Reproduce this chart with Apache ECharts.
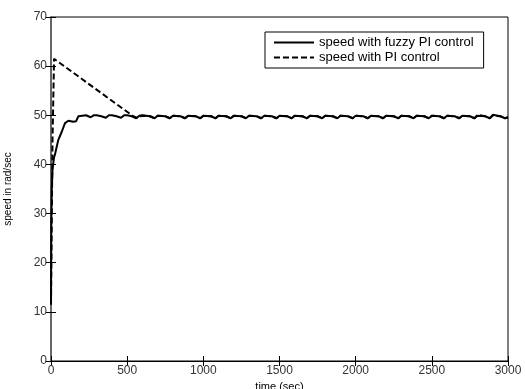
<!DOCTYPE html>
<html><head><meta charset="utf-8">
<script src="https://cdn.jsdelivr.net/npm/echarts@6/dist/echarts.min.js"></script>
<style>html,body{margin:0;padding:0;background:#fff}#c{width:525px;height:389px}</style>
</head><body><div id="c"></div>
<script>
var xTicks = [0, 500, 1000, 1500, 2000, 2500, 3000];
var yTicks = [0, 10, 20, 30, 40, 50, 60, 70];
var seriesNames = ["speed with fuzzy PI control", "speed with PI control"];

var fuzzyTime = [0, 2, 5, 10, 20, 26, 33, 48, 70, 92, 114, 146, 165, 180, 190,
  230, 260, 280, 300, 330, 360, 380, 400, 430, 460, 480, 500, 530, 560, 580, 600,
  650, 680, 700, 750, 780, 800, 850, 880, 900, 950, 980, 1000, 1050, 1080, 1100,
  1150, 1180, 1200, 1250, 1280, 1300, 1350, 1380, 1400, 1450, 1480, 1500, 1550, 1580, 1600,
  1650, 1680, 1700, 1750, 1780, 1800, 1850, 1880, 1900, 1950, 1980, 2000, 2050, 2080, 2100,
  2150, 2180, 2200, 2250, 2280, 2300, 2350, 2380, 2400, 2450, 2480, 2500, 2550, 2580, 2600,
  2650, 2680, 2700, 2750, 2780, 2800, 2850, 2880, 2900, 2950, 2980, 3000];
var fuzzySpeed = [11.5, 28, 35, 39, 41.5, 42, 43, 45, 46.6, 48.4, 48.9, 48.7, 48.8, 49.8, 50.0,
  50.0, 49.6, 50.0, 50.0, 49.8, 49.5, 50.0, 50.0, 49.8, 49.5, 50.0, 50.0, 49.8, 49.4, 49.9, 50.0,
  49.8, 49.4, 49.9, 49.8, 49.4, 49.9, 49.8, 49.4, 49.9, 49.8, 49.4, 49.9, 49.8, 49.4, 49.9,
  49.8, 49.4, 49.9, 49.8, 49.4, 49.9, 49.8, 49.4, 49.9, 49.8, 49.4, 49.9, 49.8, 49.4, 49.9,
  49.8, 49.4, 49.9, 49.8, 49.4, 49.9, 49.8, 49.4, 49.9, 49.8, 49.4, 49.9, 49.8, 49.4, 49.9,
  49.8, 49.4, 49.9, 49.8, 49.4, 49.9, 49.8, 49.4, 49.9, 49.8, 49.4, 49.9, 49.8, 49.4, 49.9,
  49.8, 49.4, 49.9, 49.8, 49.4, 49.9, 49.8, 49.4, 50.1, 49.8, 49.4, 49.6];

var piTime = [0, 10, 20, 540, 560, 600, 650, 680, 700, 750, 780, 800, 850, 880, 900, 950, 980, 1000,
  1050, 1080, 1100, 1150, 1180, 1200, 1250, 1280, 1300, 1350, 1380, 1400, 1450, 1480, 1500,
  1550, 1580, 1600, 1650, 1680, 1700, 1750, 1780, 1800, 1850, 1880, 1900, 1950, 1980, 2000,
  2050, 2080, 2100, 2150, 2180, 2200, 2250, 2280, 2300, 2350, 2380, 2400, 2450, 2480, 2500,
  2550, 2580, 2600, 2650, 2680, 2700, 2750, 2780, 2800, 2850, 2880, 2900, 2950, 2980, 3000];
var piSpeed = [11.5, 45, 61.5, 49.8, 49.5, 49.9, 49.8, 49.4, 49.9, 49.8, 49.4, 49.9, 49.8, 49.4, 49.9, 49.8, 49.4, 49.9,
  49.8, 49.4, 49.9, 49.8, 49.4, 49.9, 49.8, 49.4, 49.9, 49.8, 49.4, 49.9, 49.8, 49.4, 49.9,
  49.8, 49.4, 49.9, 49.8, 49.4, 49.9, 49.8, 49.4, 49.9, 49.8, 49.4, 49.9, 49.8, 49.4, 49.9,
  49.8, 49.4, 49.9, 49.8, 49.4, 49.9, 49.8, 49.4, 49.9, 49.8, 49.4, 49.9, 49.8, 49.4, 49.9,
  49.8, 49.4, 49.9, 49.8, 49.4, 49.9, 49.8, 49.4, 50.1, 49.8, 49.4, 49.9, 49.8, 49.4, 49.6];

function zip(a, b) { return a.map(function (v, i) { return [v, b[i]]; }); }

var font = "Liberation Sans";
var chart = echarts.init(document.getElementById('c'), null, {renderer: 'canvas'});
var axisCommon = {
  type: 'value',
  axisLine: {show: true, lineStyle: {color: '#000', width: 1}},
  axisTick: {show: true, inside: true, length: 5, lineStyle: {color: '#000'}},
  splitLine: {show: false}
};
chart.setOption({
  animation: false,
  backgroundColor: '#fff',
  grid: {left: 51, right: 17, top: 17, bottom: 28, outerBoundsMode: 'none', containLabel: false,
    show: true, borderColor: '#000', borderWidth: 1, backgroundColor: 'transparent'},
  legend: {
    orient: 'vertical', left: 265, top: 32,
    backgroundColor: '#fff', borderColor: '#000', borderWidth: 1,
    padding: [4, 10, 4, 8], itemGap: 2, itemWidth: 40, itemHeight: 14,
    itemStyle: {color: 'transparent', borderColor: 'transparent', borderWidth: 0},
    textStyle: {fontFamily: font, fontSize: 13, color: '#000'},
    data: seriesNames
  },
  xAxis: [
    Object.assign({}, axisCommon, {
      min: xTicks[0], max: xTicks[xTicks.length - 1], interval: 500,
      name: 'time (sec)', nameLocation: 'middle', nameGap: 20,
      nameTextStyle: {fontFamily: font, fontSize: 11, color: '#000'},
      axisLabel: {fontFamily: font, fontSize: 12, color: '#333', margin: 4,
        formatter: function (v) { return String(v); }}
    }),
    Object.assign({}, axisCommon, {
      position: 'top', min: 0, max: 3000, interval: 500,
      axisLabel: {show: false}
    })
  ],
  yAxis: [
    Object.assign({}, axisCommon, {
      min: yTicks[0], max: yTicks[yTicks.length - 1], interval: 10,
      name: 'speed in rad/sec', nameLocation: 'middle', nameGap: 38,
      nameTextStyle: {fontFamily: font, fontSize: 10, color: '#000'},
      axisLabel: {fontFamily: font, fontSize: 12, color: '#333', margin: 4,
        formatter: function (v) { return String(v); }}
    }),
    Object.assign({}, axisCommon, {
      position: 'right', min: 0, max: 70, interval: 10,
      axisLine: {show: true, lineStyle: {color: '#666', width: 2}},
      axisLabel: {show: false}
    })
  ],
  series: [
    {
      name: seriesNames[0], type: 'line', showSymbol: false, symbol: 'none',
      lineStyle: {color: '#000', width: 2},
      itemStyle: {color: '#000'},
      data: zip(fuzzyTime, fuzzySpeed), z: 3
    },
    {
      name: seriesNames[1], type: 'line', showSymbol: false, symbol: 'none',
      lineStyle: {color: '#000', width: 2, type: [6, 3]},
      itemStyle: {color: '#000'},
      data: zip(piTime, piSpeed), z: 4
    }
  ]
});
</script></body></html>
